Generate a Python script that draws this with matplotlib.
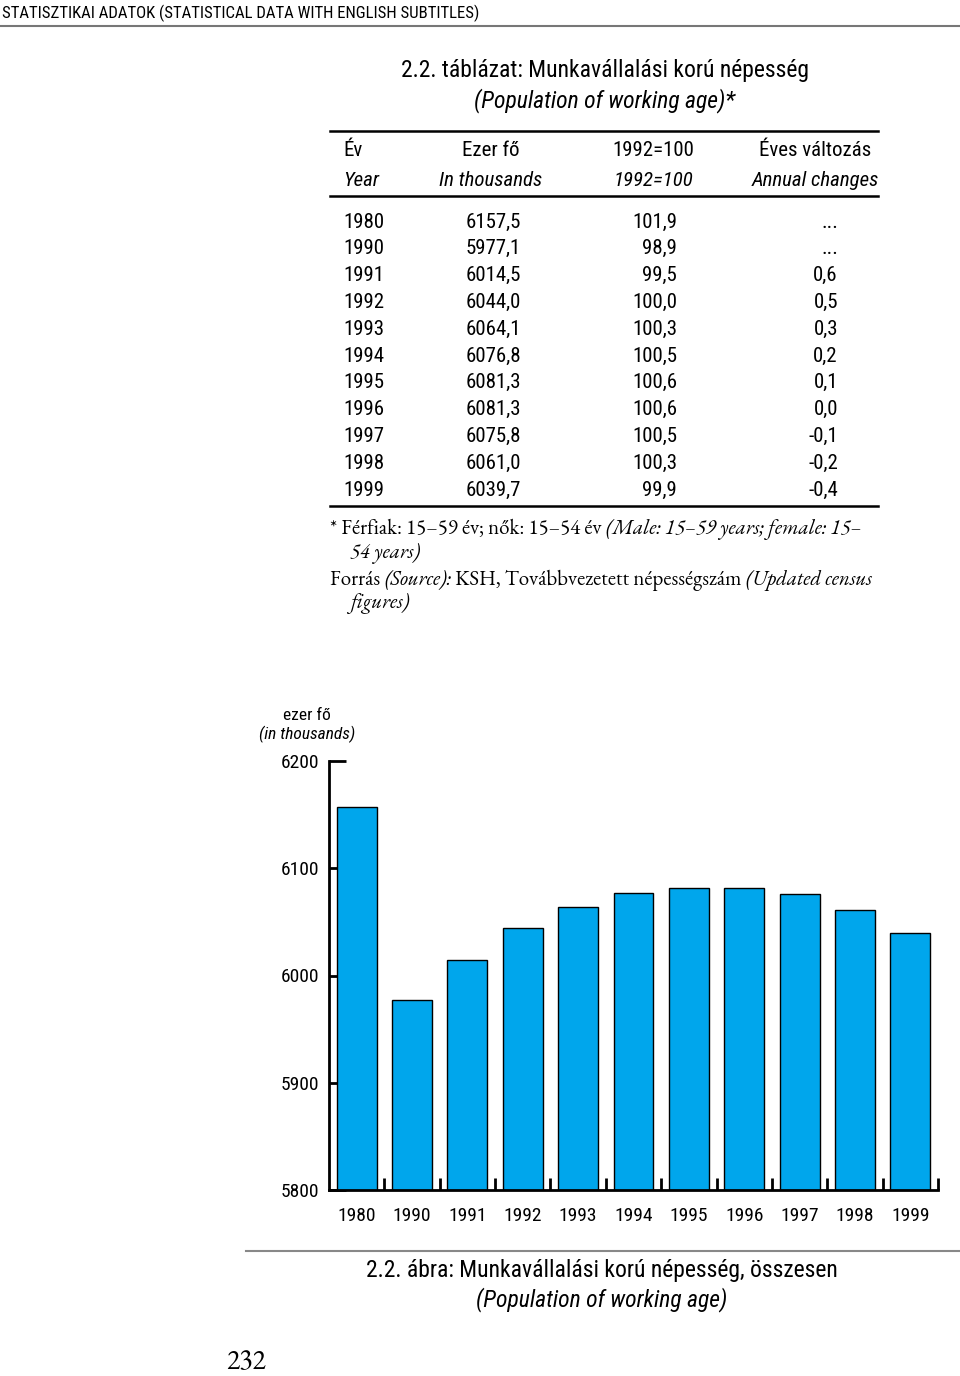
import matplotlib
matplotlib.use("Agg")
import matplotlib.pyplot as plt
from matplotlib.lines import Line2D

sans = ['Roboto Condensed', 'PT Sans Narrow', 'Archivo Narrow', 'Liberation Sans', 'DejaVu Sans']
serif = ['EB Garamond', 'Cormorant Garamond', 'Liberation Serif', 'DejaVu Serif']
plt.rcParams['font.family'] = sans

# table / chart data
years = ['1980', '1990', '1991', '1992', '1993', '1994', '1995', '1996', '1997', '1998', '1999']
thousands = [6157.5, 5977.1, 6014.5, 6044.0, 6064.1, 6076.8, 6081.3, 6081.3, 6075.8, 6061.0, 6039.7]
index_1992 = [101.9, 98.9, 99.5, 100.0, 100.3, 100.5, 100.6, 100.6, 100.5, 100.3, 99.9]
annual_change = [None, None, 0.6, 0.5, 0.3, 0.2, 0.1, 0.0, -0.1, -0.2, -0.4]
y_ticks = [5800, 5900, 6000, 6100, 6200]

W, H = 960, 1376
fig = plt.figure(figsize=(W / 100, H / 100), dpi=100)
renderer = fig.canvas.get_renderer()


def px(x, y):
    return x / W, 1 - y / H


def txt(x, y, s, **kw):
    kw.setdefault('va', 'center')
    return fig.text(*px(x, y), s, **kw)


def hline(x0, x1, y, lw=1.5, color='black'):
    fig.add_artist(Line2D([x0 / W, x1 / W], [1 - y / H, 1 - y / H], lw=lw, color=color,
                          transform=fig.transFigure))


def runs(x, y, pieces, size, family):
    # pieces: (text, italic), laid side by side
    for s, it in pieces:
        t = txt(x, y, s, fontsize=size, family=family, style='italic' if it else 'normal')
        bb = t.get_window_extent(renderer)
        x += bb.width


def fmt(v):
    if v is None:
        return '...'
    return ('%.1f' % v).replace('.', ',')


# page header
txt(2, 13, 'STATISZTIKAI ADATOK (STATISTICAL DATA WITH ENGLISH SUBTITLES)', fontsize=12.1)
hline(0, 960, 26, lw=1.5, color='#777777')

# table title
txt(605, 71, '2.2. táblázat: Munkavállalási korú népesség', fontsize=17, ha='center')
txt(605, 101, '(Population of working age)*', fontsize=17, ha='center', style='italic')

# table
FS = 15
hline(330, 878, 131, lw=1.8)
txt(343, 150, 'Év', fontsize=FS)
txt(491, 150, 'Ezer fő', fontsize=FS, ha='center')
txt(653, 150, '1992=100', fontsize=FS, ha='center')
txt(815, 150, 'Éves változás', fontsize=FS, ha='center')
txt(343, 180, 'Year', fontsize=FS, style='italic')
txt(491, 180, 'In thousands', fontsize=FS, ha='center', style='italic')
txt(653, 180, '1992=100', fontsize=FS, ha='center', style='italic')
txt(815, 180, 'Annual changes', fontsize=FS, ha='center', style='italic')
hline(330, 878, 196, lw=1.8)

row_y = 222
for yr, th, ix, ch in zip(years, thousands, index_1992, annual_change):
    txt(343, row_y, yr, fontsize=FS)
    txt(521, row_y, fmt(th), fontsize=FS, ha='right')
    txt(677, row_y, fmt(ix), fontsize=FS, ha='right')
    txt(838, row_y, fmt(ch), fontsize=FS, ha='right')
    row_y += 26.8
hline(330, 878, 506, lw=1.8)

# footnotes
runs(330, 529, [('* Férfiak: 15–59 év; nők: 15–54 év ', False),
                ('(Male: 15–59 years; female: 15–', True)], 15, serif)
runs(350, 553, [('54 years)', True)], 15, serif)
runs(330, 580, [('Forrás ', False), ('(Source):', True),
                (' KSH, Továbbvezetett népességszám ', False), ('(Updated census', True)], 15, serif)
runs(350, 604, [('figures)', True)], 15, serif)

# chart
ax = fig.add_axes([329 / W, 1 - 1190 / H, 609 / W, 429 / H])
pos = list(range(len(years)))
ax.bar(pos, thousands, width=0.72, color='#00A6EC', edgecolor='black', linewidth=1, zorder=2)
ax.set_xlim(-0.5, len(years) - 0.5)
ax.set_ylim(5800, 6200)
for s in ['top', 'right']:
    ax.spines[s].set_visible(False)
for s in ['left', 'bottom']:
    ax.spines[s].set_linewidth(2)
ax.set_yticks(y_ticks)
ax.set_yticklabels([str(v) for v in y_ticks])
ax.tick_params(axis='y', direction='in', length=12, width=2, labelsize=14, pad=7)
ax.set_xticks([p + 0.5 for p in pos])
ax.set_xticklabels([])
ax.set_xticks(pos, minor=True)
ax.set_xticklabels(years, minor=True)
ax.tick_params(axis='x', which='major', direction='in', length=9, width=2)
ax.tick_params(axis='x', which='minor', length=0, labelsize=14, pad=12)

txt(307, 716, 'ezer fő', fontsize=12.5, ha='center')
txt(307, 734, '(in thousands)', fontsize=12.5, ha='center', style='italic')

# caption
hline(246, 960, 1251, lw=1.5, color='#888888')
txt(602, 1270, '2.2. ábra: Munkavállalási korú népesség, összesen', fontsize=17, ha='center')
txt(602, 1300, '(Population of working age)', fontsize=17, ha='center', style='italic')

txt(226, 1363, '232', fontsize=20, family=serif)

fig.savefig('out.png', dpi=100)
